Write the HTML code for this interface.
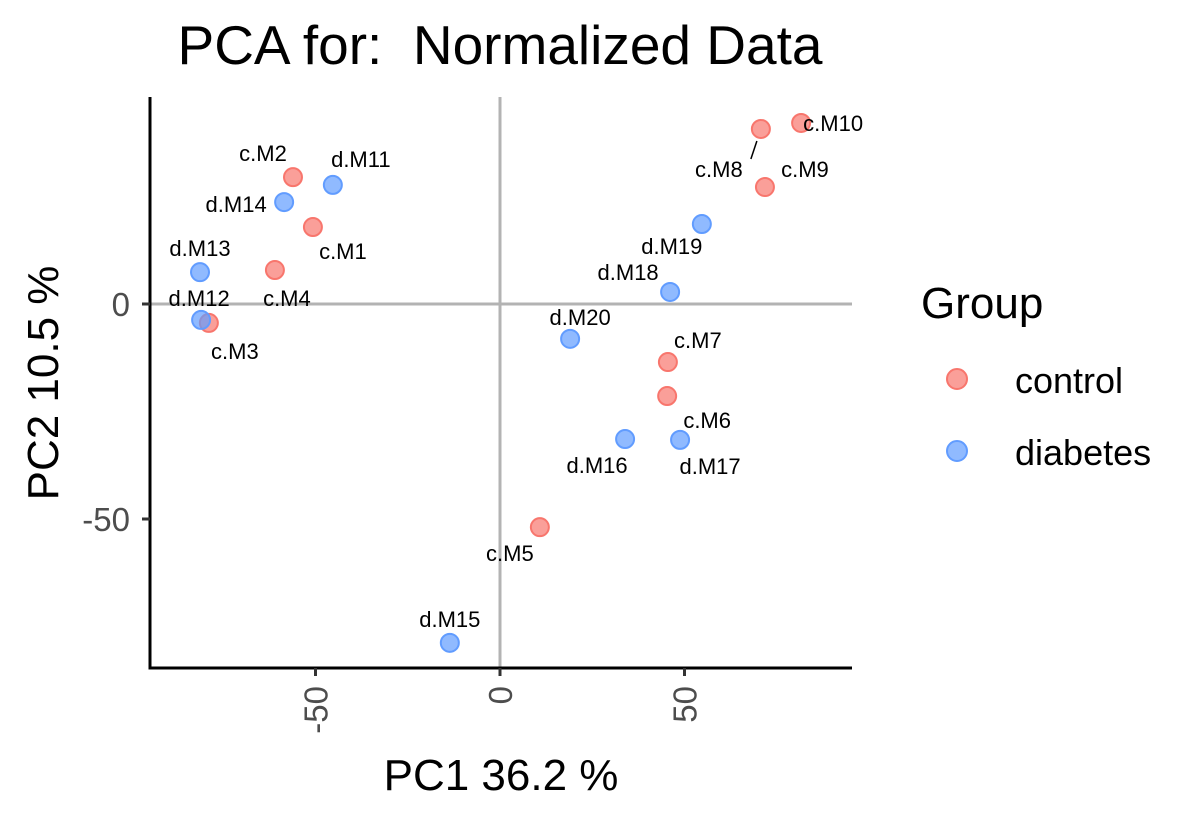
<!DOCTYPE html>
<html><head><meta charset="utf-8"><style>
body{margin:0;background:#fff;width:1200px;height:820px;overflow:hidden;font-family:"Liberation Sans",Arial,sans-serif}
</style></head><body>
<svg id="chart" width="1200" height="820" xmlns="http://www.w3.org/2000/svg" font-family="Liberation Sans, Arial, sans-serif">
<text x="500" y="64" font-size="55" text-anchor="middle">PCA for:&#160; Normalized Data</text>
<g id="plot"></g>
<text x="501" y="790" font-size="44" text-anchor="middle">PC1 36.2 %</text>
<text transform="translate(58,383) rotate(-90)" font-size="44" text-anchor="middle">PC2 10.5 %</text>
<g>
<text x="921" y="318" font-size="44">Group</text>
<circle cx="957" cy="379" r="10" fill="#F8766D" fill-opacity="0.7" stroke="#F8766D" stroke-width="2"/>
<text x="1015" y="393" font-size="36">control</text>
<circle cx="957" cy="451" r="10" fill="#619CFF" fill-opacity="0.7" stroke="#619CFF" stroke-width="2"/>
<text x="1015" y="465" font-size="36">diabetes</text>
</g>
</svg>
<script>
const names=["c.M10","c.M8","c.M9","d.M19","d.M18","c.M7","c.M6","d.M17","d.M16","d.M20","c.M5","d.M15","c.M2","d.M11","d.M14","c.M1","d.M13","c.M4","c.M3","d.M12"];
const pc1=[81.6,70.7,71.8,54.7,46.1,45.5,45.3,48.8,33.9,19.0,10.8,-13.6,-56.1,-45.3,-58.5,-50.7,-81.3,-61.0,-78.9,-81.0];
const pc2=[42.1,40.7,27.2,18.6,2.8,-13.5,-21.4,-31.6,-31.4,-8.1,-51.9,-78.8,29.5,27.7,23.7,17.9,7.4,7.9,-4.4,-3.7];
const groups=names.map(n=>n[0]==="c"?"control":"diabetes");
const xTicks=[-50,0,50];
const yTicks=[-50,0];
// label offsets (layout, px)
const lo=[[32,0],[-42,40],[40,-18],[-30,22],[-42,-20],[30,-22],[40,24],[30,26],[-28,26],[10,-22],[-30,26],[0,-24],[-30,-24],[28,-26],[-48,2],[30,24],[0,-24],[12,28],[26,28],[-2,-22]];
const X=v=>500+v*3.69, Y=v=>304-v*4.3;
const ns="http://www.w3.org/2000/svg", g=document.getElementById("plot");
function mk(t,a){const e=document.createElementNS(ns,t);for(const k in a)e.setAttribute(k,a[k]);g.appendChild(e);return e;}
let e;
e=mk("line",{x1:X(0),x2:X(0),y1:97,y2:668,stroke:"#b3b3b3","stroke-width":3});


e=mk("line",{x1:150,x2:852,y1:Y(0),y2:Y(0),stroke:"#b3b3b3","stroke-width":3});


e=mk("path",{d:"M150,97V668H852",fill:"none",stroke:"#000","stroke-width":3});


xTicks.forEach(t=>{
 e=mk("line",{x1:X(t),x2:X(t),y1:668,y2:676,stroke:"#333","stroke-width":3});
 
 
 e=mk("text",{transform:`translate(${X(t)+12},686) rotate(-90)`,"font-size":33,fill:"#4d4d4d","text-anchor":"end"});
 e.textContent=t;
 
 
});
yTicks.forEach(t=>{
 e=mk("line",{x1:142,x2:150,y1:Y(t),y2:Y(t),stroke:"#333","stroke-width":3});
 
 
 e=mk("text",{x:130,y:Y(t)+12,"font-size":33,fill:"#4d4d4d","text-anchor":"end"});
 e.textContent=t;
 
 
});
// leader line for c.M8
e=mk("line",{x1:X(pc1[1])-4,y1:Y(pc2[1])+12,x2:X(pc1[1])-10,y2:Y(pc2[1])+30,stroke:"#000","stroke-width":1.5});


names.forEach((n,i)=>{
 const c=groups[i]==="control"?"#F8766D":"#619CFF";
 e=mk("circle",{cx:X(pc1[i]),cy:Y(pc2[i]),r:9,fill:c,"fill-opacity":0.7,stroke:c,"stroke-width":2});
 
 
});
names.forEach((n,i)=>{
 e=mk("text",{x:X(pc1[i])+lo[i][0],y:Y(pc2[i])+lo[i][1]+8,"font-size":22,"text-anchor":"middle"});
 e.textContent=n;
 
 
});
</script>
</body></html>
